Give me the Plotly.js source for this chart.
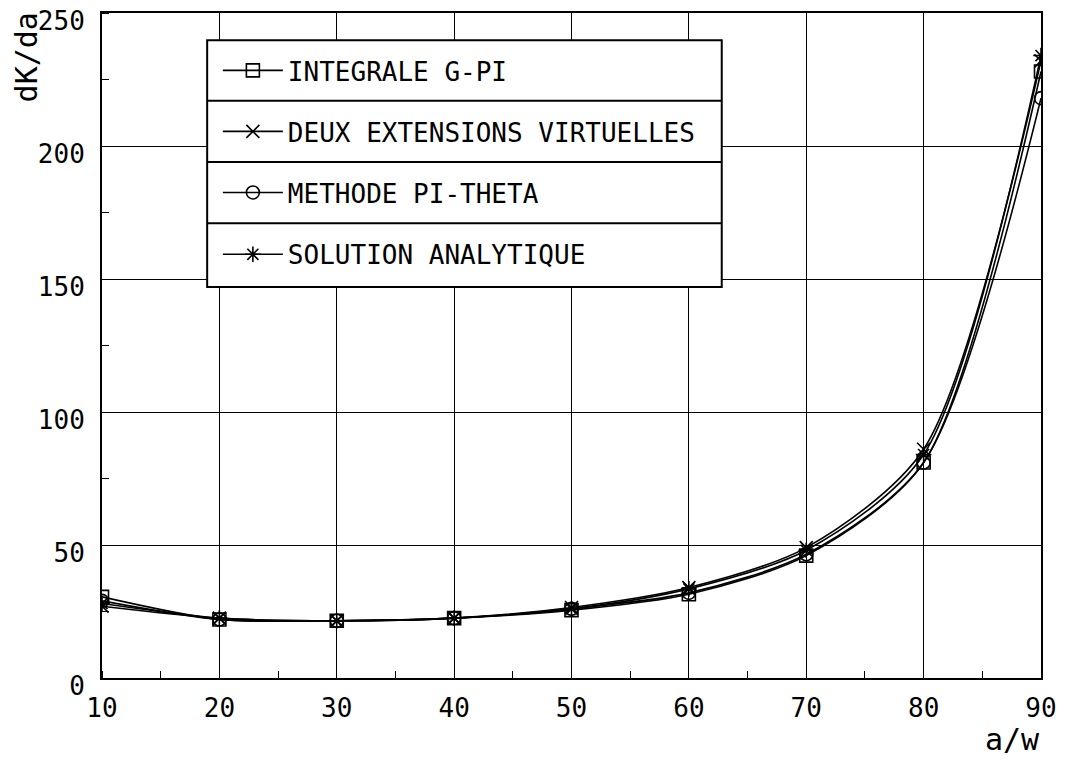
<!DOCTYPE html>
<html>
<head>
<meta charset="utf-8">
<script src="https://cdn.plot.ly/plotly-3.0.1.min.js"></script>
<style>html,body{margin:0;padding:0;background:#fff;}#chart{width:1066px;height:761px;}</style>
</head>
<body>
<div id="chart"></div>
<script>
const aw = [10, 20, 30, 40, 50, 60, 70, 80, 90];
const integraleGPI = [30.5, 22, 21.5, 22.5, 25.5, 31.5, 46, 81, 228];
const deuxExtensions = [27, 22.5, 21.5, 22.5, 26.5, 34, 49, 86, 232];
const methodePiTheta = [29, 22, 21.5, 22.5, 26, 32, 46.5, 81, 218];
const solutionAnalytique = [28, 22.5, 21.5, 22.5, 26, 33.5, 48, 84, 234];
const seriesNames = ['INTEGRALE G-PI', 'DEUX EXTENSIONS VIRTUELLES', 'METHODE PI-THETA', 'SOLUTION ANALYTIQUE'];
const xTicks = [10, 20, 30, 40, 50, 60, 70, 80, 90];
const yTicks = [0, 50, 100, 150, 200, 250];

const FONT = 'DejaVu Sans Mono, Liberation Mono, monospace';
const symbols = ['square-open', 'x-thin-open', 'circle-open', 'asterisk-open'];
const values = [integraleGPI, deuxExtensions, methodePiTheta, solutionAnalytique];
const legendIds = ['legend', 'legend2', 'legend3', 'legend4'];

const traces = values.map((v, i) => ({
  x: aw, y: v, type: 'scatter', mode: 'lines+markers', name: seriesNames[i],
  legend: legendIds[i],
  line: {color: '#000', width: 1.6, shape: 'spline', smoothing: 0.8},
  marker: {symbol: symbols[i], size: 13, color: '#000', line: {color: '#000', width: 1.6}}
}));

// Legend box geometry (paper coords)
const bx0 = 0.112, bx1 = 0.660, by1 = 0.959, by0 = 0.588;
const seps = [0.868, 0.776, 0.684];
const rowCenters = [0.9135, 0.8218, 0.730, 0.637];

const shapes = [{type: 'rect', xref: 'paper', yref: 'paper', x0: bx0, x1: bx1, y0: by0, y1: by1,
  fillcolor: '#fff', line: {color: '#000', width: 2}, layer: 'above'}];
seps.forEach(s => shapes.push({type: 'line', xref: 'paper', yref: 'paper', x0: bx0, x1: bx1, y0: s, y1: s,
  line: {color: '#000', width: 2}, layer: 'above'}));

const layout = {
  width: 1066, height: 761,
  margin: {l: 102, r: 25, t: 13, b: 83},
  paper_bgcolor: '#fff', plot_bgcolor: '#fff',
  font: {family: FONT, size: 26, color: '#000'},
  showlegend: true,
  xaxis: {
    range: [10, 90], tickvals: xTicks, ticktext: xTicks.map(String),
    showgrid: true, gridcolor: '#000', gridwidth: 1,
    showline: true, linecolor: '#000', linewidth: 2, mirror: true,
    ticks: '', zeroline: false, ticklabelstandoff: 6, ticklabeloverflow: 'allow',
    tickfont: {family: FONT, size: 26, color: '#000'},
    minor: {dtick: 5, tick0: 0, ticks: 'inside', ticklen: 7, tickcolor: '#000', showgrid: false}
  },
  yaxis: {
    range: [0, 250], tickvals: yTicks, ticktext: yTicks.map(String),
    showgrid: true, gridcolor: '#000', gridwidth: 1,
    showline: true, linecolor: '#000', linewidth: 2, mirror: true,
    ticks: '', zeroline: false, ticklabelstandoff: 10, ticklabelshift: 8, ticklabeloverflow: 'allow',
    tickfont: {family: FONT, size: 26, color: '#000'},
    minor: {dtick: 25, tick0: 0, ticks: 'inside', ticklen: 7, tickcolor: '#000', showgrid: false}
  },
  shapes: shapes,
  annotations: [
    {text: 'dK/da', xref: 'paper', yref: 'paper', x: -0.080, y: 0.933, textangle: -90,
     xanchor: 'center', yanchor: 'middle',
     showarrow: false, font: {family: FONT, size: 30, color: '#000'}},
    {text: 'a/w', xref: 'paper', yref: 'paper', x: 0.970, y: -0.093,
     xanchor: 'center', yanchor: 'middle',
     showarrow: false, font: {family: FONT, size: 30, color: '#000'}}
  ]
};
legendIds.forEach((id, i) => {
  layout[id] = {x: 0.1234, y: rowCenters[i], xanchor: 'left', yanchor: 'middle',
    bgcolor: 'rgba(0,0,0,0)', borderwidth: 0, itemwidth: 60,
    font: {family: FONT, size: 26, color: '#000'}};
});

Plotly.newPlot('chart', traces, layout, {staticPlot: true});
</script>
</body>
</html>
